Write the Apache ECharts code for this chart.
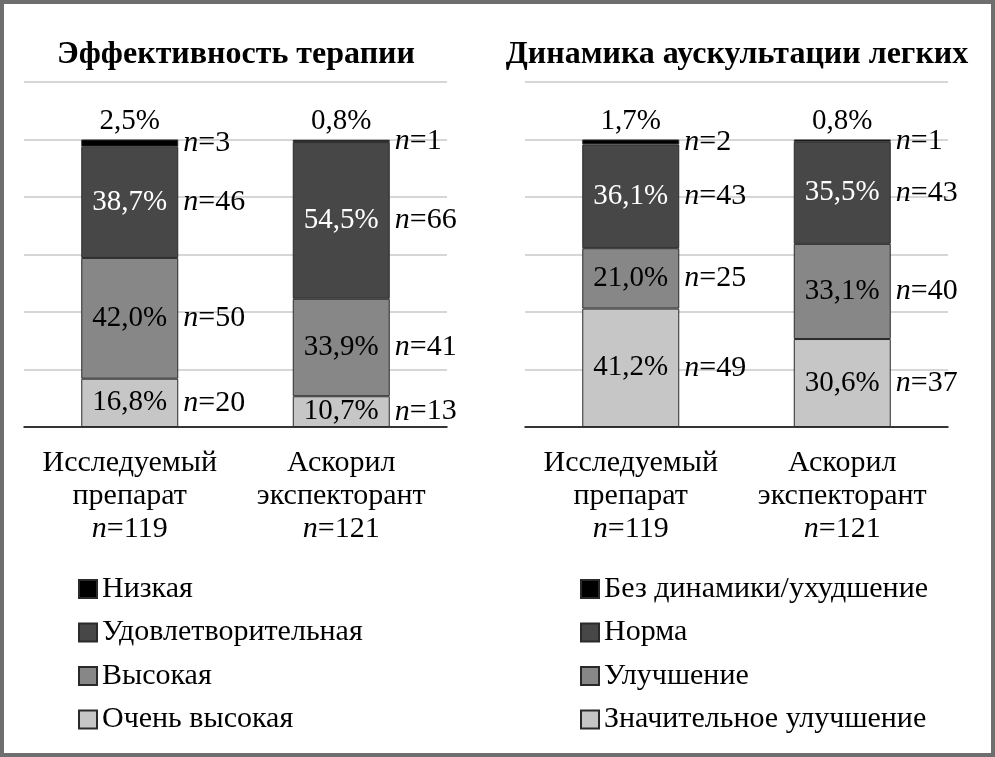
<!DOCTYPE html>
<html><head><meta charset="utf-8">
<script src="https://cdn.jsdelivr.net/npm/echarts@6/dist/echarts.min.js"></script>
<style>html,body{margin:0;padding:0;background:#fff}#c{width:995px;height:757px}</style>
</head><body><div id="c"></div>
<script>
// ---- data ----
const groups = ['Исследуемый\nпрепарат', 'Аскорил\nэкспекторант'];
const groupN = [119, 121];
const leftTitle = 'Эффективность терапии';
const rightTitle = 'Динамика аускультации легких';
// series listed bottom -> top of the stack
const leftNames = ['Очень высокая', 'Высокая', 'Удовлетворительная', 'Низкая'];
const leftPct = [[16.8, 10.7], [42.0, 33.9], [38.7, 54.5], [2.5, 0.8]];
const leftN = [[20, 13], [50, 41], [46, 66], [3, 1]];
const rightNames = ['Значительное улучшение', 'Улучшение', 'Норма', 'Без динамики/ухудшение'];
const rightPct = [[41.2, 30.6], [21.0, 33.1], [36.1, 35.5], [1.7, 0.8]];
const rightN = [[49, 37], [25, 40], [43, 43], [2, 1]];
const yTicks = {min: 0, max: 120, interval: 20};

// ---- style ----
const FONT = 'Liberation Serif';
const colors = ['#c6c6c6', '#878787', '#474747', '#000000'];
const labelColors = ['#000', '#000', '#fff', '#000'];
const fmt = v => v.toFixed(1).replace('.', ',') + '%';

function panelSeries(p, names, pct, ns) {
  const out = [];
  names.forEach((name, i) => {
    const top = i === names.length - 1;
    out.push({
      type: 'bar', name: name, xAxisIndex: p, yAxisIndex: p, stack: 'pct' + p,
      barWidth: 97, barGap: '-100%',
      data: pct[i],
      itemStyle: {color: colors[i], borderColor: '#2a2a2a', borderWidth: 1},
      label: {
        show: true, position: top ? 'top' : 'inside', distance: 4,
        color: top ? '#000' : labelColors[i], fontSize: 29, fontFamily: FONT,
        formatter: prm => fmt(prm.value)
      },
      silent: true
    });
  });
  names.forEach((name, i) => {
    out.push({
      type: 'bar', name: name + ' (n)', xAxisIndex: p, yAxisIndex: p, stack: 'n' + p,
      barWidth: 97, barGap: '-100%',
      data: pct[i],
      itemStyle: {color: 'rgba(0,0,0,0)', borderWidth: 0},
      label: {
        show: true, position: 'right', distance: 5, color: '#000',
        fontSize: 30, fontFamily: FONT,
        formatter: prm => '{i|n}=' + ns[i][prm.dataIndex],
        rich: {i: {fontStyle: 'italic', fontSize: 30, fontFamily: FONT, color: '#000'}}
      },
      silent: true
    });
  });
  return out;
}

function xAxis(p) {
  return {
    type: 'category', gridIndex: p, data: groups,
    axisLine: {lineStyle: {color: '#000', width: 1.5}},
    axisTick: {show: false},
    axisLabel: {
      interval: 0, margin: 20, fontSize: 30, lineHeight: 33, color: '#000', fontFamily: FONT,
      formatter: (v, idx) => v + '\n{i|n}=' + groupN[idx],
      rich: {i: {fontStyle: 'italic', fontSize: 30, lineHeight: 33, fontFamily: FONT, color: '#000'}}
    }
  };
}
function yAxis(p) {
  return {
    type: 'value', gridIndex: p, min: yTicks.min, max: yTicks.max, interval: yTicks.interval,
    axisLabel: {show: false}, axisLine: {show: false}, axisTick: {show: false},
    splitLine: {lineStyle: {color: '#c8c8c8', width: 1.5}}
  };
}
function legend(names, left) {
  return {
    data: names.slice().reverse(), orient: 'vertical', left: left, top: 574, padding: 0,
    itemWidth: 18, itemHeight: 18, itemGap: 13.5, icon: 'rect', selectedMode: false,
    textStyle: {fontSize: 30, lineHeight: 29, fontFamily: FONT, color: '#000'}
  };
}

const chart = echarts.init(document.getElementById('c'), null, {renderer: 'canvas'});
chart.setOption({
  animation: false,
  backgroundColor: '#fff',
  grid: [
    {left: 24, right: 548, top: 82, bottom: 330},
    {left: 525, right: 47, top: 82, bottom: 330}
  ],
  xAxis: [xAxis(0), xAxis(1)],
  yAxis: [yAxis(0), yAxis(1)],
  legend: [legend(leftNames, 78), legend(rightNames, 580)],
  graphic: [
    {type: 'rect', shape: {x: 2, y: 2, width: 991, height: 753}, style: {fill: 'none', stroke: '#6e6e6e', lineWidth: 4}, silent: true},
    {type: 'text', x: 236, y: 55, style: {text: leftTitle, font: 'bold 32px "Liberation Serif"', fill: '#000', align: 'center', verticalAlign: 'middle', textAlign: 'center', textVerticalAlign: 'middle'}},
    {type: 'text', x: 737, y: 55, style: {text: rightTitle, font: 'bold 32px "Liberation Serif"', fill: '#000', align: 'center', verticalAlign: 'middle', textAlign: 'center', textVerticalAlign: 'middle'}}
  ],
  series: panelSeries(0, leftNames, leftPct, leftN).concat(panelSeries(1, rightNames, rightPct, rightN))
});
</script>
</body></html>
